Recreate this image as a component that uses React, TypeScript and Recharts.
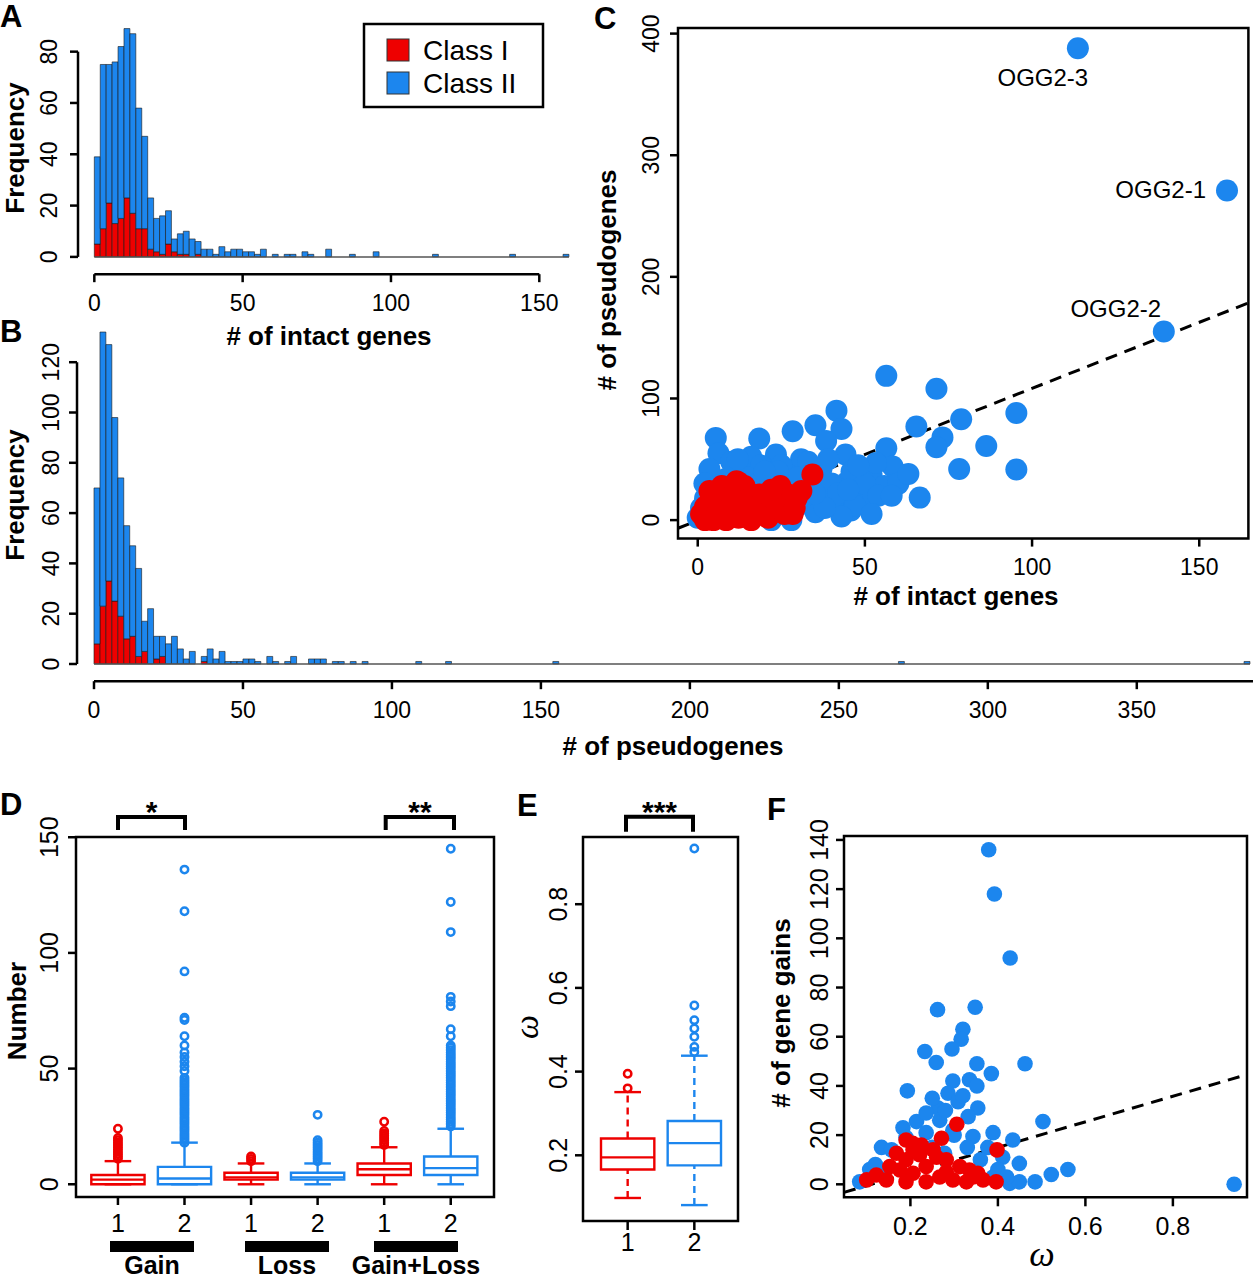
import React from 'react';
import {
  BarChart,
  Bar,
  ScatterChart,
  Scatter,
  XAxis,
  YAxis,
  ReferenceLine,
  ReferenceArea,
} from 'recharts';

const RED = '#ee0000';
const BLUE = '#1c86ee';
const FONT = '"Liberation Sans", Arial, Helvetica, sans-serif';
const SERIF = '"Liberation Serif", "DejaVu Serif", serif';

// ---------- A: histogram of # of intact genes (bin width 2) ----------
const BIN = 2;
const intactBins = [
  0, 2, 4, 6, 8, 10, 12, 14, 16, 18, 20, 22, 24, 26, 28, 30, 32, 34, 36, 38, 40, 42, 44, 46, 48,
  50, 52, 54, 56, 60, 64, 66, 70, 72, 78, 86, 94, 114, 140, 158,
];
const intactAll = [
  39, 75, 75, 76, 82, 89, 87, 58, 47, 23, 15, 16, 18, 7, 9, 10, 7, 6, 3, 3, 1, 4, 2, 3, 3, 2, 2,
  1, 3, 1, 1, 1, 2, 1, 3, 1, 2, 1, 1, 1,
];
const intactClassI = [
  5, 11, 21, 13, 15, 23, 17, 11, 11, 3, 2, 1, 5, 2, 1, 1, 0, 1, 0, 0, 0, 0, 0, 0, 0, 0, 0, 0, 0,
  0, 0, 0, 0, 0, 0, 0, 0, 0, 0, 0,
];

// ---------- B: histogram of # of pseudogenes (bin width 2) ----------
const pseudoBins = [
  0, 2, 4, 6, 8, 10, 12, 14, 16, 18, 20, 22, 24, 26, 28, 30, 32, 36, 38, 40, 42, 44, 46, 48, 50,
  52, 54, 58, 60, 64, 66, 72, 74, 76, 80, 82, 86, 90, 108, 118, 154, 270, 386,
];
const pseudoAll = [
  70, 132, 127, 98, 74, 55, 47, 38, 17, 22, 11, 11, 8, 11, 6, 2, 5, 3, 6, 2, 5, 1, 1, 1, 2, 2, 1,
  3, 1, 1, 3, 2, 2, 2, 1, 1, 1, 1, 1, 1, 1, 1, 1,
];
const pseudoClassI = [
  8, 23, 33, 25, 19, 10, 11, 3, 5, 0, 2, 3, 0, 0, 0, 0, 0, 1, 0, 0, 0, 0, 0, 0, 0, 0, 0, 0, 0, 0,
  0, 0, 0, 0, 0, 0, 0, 0, 0, 0, 0, 0, 0,
];

// ---------- C: pseudogenes vs intact genes ----------
const cBlue: [number, number][] = [
  [56.4, 118.6], [71.4, 108], [41.5, 90], [95.3, 88], [78.8, 83], [65.4, 77], [43, 75], [35.2, 78],
  [28.4, 73], [18.4, 67], [5.4, 67.6], [6.2, 55], [73.2, 68], [71.4, 60], [86.3, 61], [56.4, 59],
  [38.4, 65], [44.2, 54], [78.2, 42], [95.3, 41.6], [61.4, 37], [66.4, 18.5], [3.5, 42], [23.4, 54],
  [30.9, 50], [14.7, 47], [11, 40], [45.8, 8], [52, 37], [55.8, 28], [48.3, 24], [44.6, 31],
  [35.2, 6.5], [40.8, 18], [50.8, 15], [27.1, 37], [21, 34], [33.4, 28], [37, 42], [26, 5], [22, 0],
  [4.7, 28], [2.2, 18], [8.5, 34], [29.6, 11], [58.3, 44], [53.3, 47], [10, 48], [16, 52], [19, 45],
  [25, 45], [33, 48], [36, 35], [40, 30], [42, 22], [46, 40], [50, 30], [54, 20], [47, 12], [43, 3],
  [38, 10], [32, 20], [30, 35], [24, 40], [15, 35], [8, 22], [1, 10], [0, 2], [13, 3], [18, 30],
  [60, 30], [58, 20], [63, 38], [52, 5], [28, 0], [39, 50], [48, 45], [35, 22], [45, 25], [2, 30],
  [12, 50], [20, 40],
];
const cRed: [number, number][] = [
  [1, 5], [2.2, 11], [4, 18], [6, 21], [8.5, 16], [11, 24], [12.2, 31], [14, 28], [16, 21],
  [17.8, 15], [19.7, 8], [12.2, 2], [8.5, 0], [4.7, 0], [16, 0], [21, 2], [23.4, 15], [27, 21],
  [29.6, 18], [31, 24], [24.7, 28], [26, 5], [28.4, 5], [21, 15], [18.4, 21], [2.2, 0], [6, 8],
  [9.7, 8], [14.7, 8], [13.4, 15], [7.2, 28], [3.5, 24], [11.6, 32], [34.3, 37.5], [20, 10],
  [24, 10], [29, 10], [18, 5], [10, 20], [22, 25],
];
const cNamed = [
  { name: 'OGG2-3', x: 113.7, y: 388 },
  { name: 'OGG2-1', x: 158.3, y: 271 },
  { name: 'OGG2-2', x: 139.4, y: 155 },
];
const cFit = { intercept: -0.3, slope: 1.086 };

// ---------- D: gain / loss boxplots ----------
const dTickLabels = ['1', '2', '1', '2', '1', '2'];
const dGroups = ['Gain', 'Loss', 'Gain+Loss'];
const dBoxes = [
  { pos: 1, cls: 1, lo: 0, q1: 0, med: 2, q3: 4, hi: 10 },
  { pos: 2, cls: 2, lo: 0, q1: 0, med: 2.5, q3: 7.5, hi: 18 },
  { pos: 3, cls: 1, lo: 0, q1: 2, med: 3, q3: 5, hi: 9 },
  { pos: 4, cls: 2, lo: 0, q1: 2, med: 3, q3: 5, hi: 9 },
  { pos: 5, cls: 1, lo: 0, q1: 4, med: 6.5, q3: 9, hi: 16 },
  { pos: 6, cls: 2, lo: 0, q1: 4, med: 7, q3: 12, hi: 24 },
];
const dOutliers: number[][] = [
  [11, 12, 13, 14, 15, 16, 17, 18, 19, 20, 24],
  [
    18, 19, 20, 21, 22, 23, 24, 25, 26, 27, 28, 29, 30, 31, 32, 33, 34, 35, 36, 37, 38, 39, 40, 41,
    42, 43, 44, 45, 46, 49, 51, 53, 55, 57, 60, 64, 71, 72, 92, 118, 136,
  ],
  [10, 11, 12],
  [10, 11, 12, 13, 14, 15, 16, 17, 18, 19, 30],
  [17, 18, 19, 20, 21, 22, 23, 27],
  [
    25, 26, 27, 28, 29, 30, 31, 32, 33, 34, 35, 36, 37, 38, 39, 40, 41, 42, 43, 44, 45, 46, 47, 48,
    49, 50, 51, 52, 53, 54, 55, 56, 57, 58, 59, 60, 64, 67, 77, 79, 81, 109, 122, 145,
  ],
];

// ---------- E: omega boxplots ----------
const eTickLabels = ['1', '2'];
const eBoxes = [
  { pos: 1, cls: 1, lo: 0.098, q1: 0.166, med: 0.195, q3: 0.24, hi: 0.351 },
  { pos: 2, cls: 2, lo: 0.081, q1: 0.176, med: 0.229, q3: 0.282, hi: 0.438 },
];
const eOutliers: number[][] = [
  [0.36, 0.395],
  [0.447, 0.459, 0.483, 0.503, 0.523, 0.558, 0.933],
];

// ---------- F: gene gains vs omega ----------
const fBlue: [number, number][] = [
  [0.379, 136], [0.392, 118], [0.428, 92], [0.262, 71], [0.348, 72], [0.32, 63], [0.316, 59],
  [0.295, 55], [0.233, 54], [0.259, 49.5], [0.352, 49], [0.462, 49], [0.385, 45], [0.193, 38],
  [0.297, 42], [0.335, 42.5], [0.352, 40], [0.286, 37], [0.309, 33.6], [0.263, 31], [0.354, 31],
  [0.332, 27.5], [0.503, 25.5], [0.214, 25.5], [0.183, 23], [0.389, 21], [0.434, 18], [0.343, 19.4],
  [0.134, 15], [0.157, 14], [0.449, 8.5], [0.56, 6], [0.522, 4], [0.485, 1], [0.94, 0], [0.084, 1],
  [0.107, 6], [0.427, 0.4], [0.449, 1], [0.377, 15], [0.297, 22], [0.236, 21], [0.278, 12.6],
  [0.236, 29], [0.267, 26], [0.13, 4.5], [0.411, 11], [0.389, 3], [0.19, 19], [0.25, 35], [0.28, 30],
  [0.32, 36], [0.3, 20], [0.36, 10], [0.4, 6], [0.12, 8], [0.42, 3], [0.33, 15], [0.25, 15],
];
const fRed: [number, number][] = [
  [0.306, 24.4], [0.398, 14], [0.396, 1], [0.19, 18], [0.205, 16.7], [0.225, 16], [0.271, 18.7],
  [0.168, 12.6], [0.19, 10], [0.221, 12], [0.252, 14], [0.282, 10], [0.313, 7.2], [0.335, 5.8],
  [0.354, 4.5], [0.366, 1.8], [0.122, 3.8], [0.1, 1.8], [0.145, 1.8], [0.176, 5.8], [0.206, 4.5],
  [0.236, 7.2], [0.267, 3], [0.297, 1.8], [0.328, 1], [0.343, 3], [0.19, 1], [0.236, 1], [0.282, 5],
  [0.153, 7.2], [0.26, 11], [0.206, 14],
];
const fFit = { intercept: -5.8, slope: 52 };

// ---------- layout ----------
type Box = { l: number; t: number; r: number; b: number };
const YW = 70;
const XH = 60;
const PAD = 40;
const MARGIN = { top: PAD, right: PAD, bottom: PAD, left: PAD };
const TICK_LINE = { stroke: '#000', strokeWidth: 2.5 };

const boxA: Box = { l: 78.2, t: 25.8, r: 584, b: 274 };
const boxB: Box = { l: 77, t: 327.3, r: 1253, b: 681.5 };
const boxC: Box = { l: 677.5, t: 27.7, r: 1247.9, b: 538.3 };
const boxD: Box = { l: 76, t: 837, r: 494, b: 1197 };
const boxE: Box = { l: 582.7, t: 836.7, r: 737.7, b: 1220.7 };
const boxF: Box = { l: 844.3, t: 836, r: 1247.3, b: 1197.3 };

function frameOf(b: Box) {
  return {
    left: b.l - YW - PAD,
    top: b.t - PAD,
    width: b.r - b.l + YW + 2 * PAD,
    height: b.b - b.t + XH + 2 * PAD,
  };
}

function histRows(bins: number[], all: number[], classI: number[]) {
  return bins.map((s, i) => ({ x: s + BIN / 2, classI: classI[i], classII: all[i] - classI[i] }));
}
const toPts = (arr: [number, number][]) => arr.map(([x, y]) => ({ x, y }));

function XTick(props: any) {
  const { x, y, payload, fs, labels } = props;
  const label = labels ? labels[Math.round(payload.value) - 1] : String(payload.value);
  return (
    <text x={x} y={y} dy="0.71em" textAnchor="middle" fontSize={fs} fontFamily={FONT} fill="#000">
      {label}
    </text>
  );
}

function YTick(props: any) {
  const { x, y, payload, fs } = props;
  return (
    <text
      x={x}
      y={y}
      transform={`rotate(-90 ${x} ${y})`}
      textAnchor="middle"
      fontSize={fs}
      fontFamily={FONT}
      fill="#000"
    >
      {String(payload.value)}
    </text>
  );
}

function dot(r: number, fill: string) {
  return (p: any) => <circle cx={p.cx} cy={p.cy} r={r} fill={fill} />;
}

function ring(color: string) {
  return (p: any) => (
    <circle cx={p.cx} cy={p.cy} r={3.7} fill="none" stroke={color} strokeWidth={2.5} />
  );
}

const OGG_LABEL_STYLE: Record<string, { dx: number; dy: number; anchor: 'middle' | 'end' }> = {
  'OGG2-3': { dx: -35, dy: 38, anchor: 'middle' },
  'OGG2-1': { dx: -21, dy: 8, anchor: 'end' },
  'OGG2-2': { dx: -48, dy: -15, anchor: 'middle' },
};

function namedDot(p: any) {
  const s = OGG_LABEL_STYLE[p.payload.name];
  return (
    <g>
      <circle cx={p.cx} cy={p.cy} r={11} fill={BLUE} />
      <text
        x={p.cx + s.dx}
        y={p.cy + s.dy}
        textAnchor={s.anchor}
        fontSize={24}
        fontFamily={FONT}
        fill="#000"
      >
        {p.payload.name}
      </text>
    </g>
  );
}

function frameRect(xDom: number[], yDom: number[]) {
  return (
    <ReferenceArea
      x1={xDom[0]}
      x2={xDom[1]}
      y1={yDom[0]}
      y2={yDom[1]}
      fill="none"
      stroke="#000"
      strokeWidth={2.5}
      ifOverflow="visible"
    />
  );
}

function boxParts(b: any, dashed: boolean) {
  const c = b.cls === 1 ? RED : BLUE;
  const k = `bx${b.pos}`;
  const common = { stroke: c, strokeWidth: 2.4, ifOverflow: 'visible' as const };
  const dash = dashed ? '7 5' : undefined;
  return [
    <ReferenceLine key={k + 'wu'} segment={[{ x: b.pos, y: b.q3 }, { x: b.pos, y: b.hi }]} {...common} strokeDasharray={dash} />,
    <ReferenceLine key={k + 'wl'} segment={[{ x: b.pos, y: b.lo }, { x: b.pos, y: b.q1 }]} {...common} strokeDasharray={dash} />,
    <ReferenceLine key={k + 'cu'} segment={[{ x: b.pos - 0.2, y: b.hi }, { x: b.pos + 0.2, y: b.hi }]} {...common} />,
    <ReferenceLine key={k + 'cl'} segment={[{ x: b.pos - 0.2, y: b.lo }, { x: b.pos + 0.2, y: b.lo }]} {...common} />,
    <ReferenceArea key={k + 'bx'} x1={b.pos - 0.4} x2={b.pos + 0.4} y1={b.q1} y2={b.q3} fill="#fff" fillOpacity={1} stroke={c} strokeWidth={2.4} ifOverflow="visible" />,
    <ReferenceLine key={k + 'md'} segment={[{ x: b.pos - 0.4, y: b.med }, { x: b.pos + 0.4, y: b.med }]} {...common} />,
  ];
}

function HistPanel(props: {
  box: Box;
  xDom: number[];
  yDom: number[];
  xTicks: number[];
  yTicks: number[];
  rows: any[];
  axisEnd: number;
  baseEnd: number;
  xm: number;
  ym: number;
}) {
  const { box, xDom, yDom, xTicks, yTicks, rows, axisEnd, baseEnd, xm, ym } = props;
  const f = frameOf(box);
  const barPx = ((box.r - box.l) / (xDom[1] - xDom[0])) * BIN - 0.03;
  return (
    <div style={{ position: 'absolute', left: f.left, top: f.top }}>
      <BarChart width={f.width} height={f.height} data={rows} margin={MARGIN} barCategoryGap={0} barGap={0}>
        <XAxis type="number" dataKey="x" domain={xDom} ticks={xTicks} allowDataOverflow interval={0}
          height={XH} axisLine={false} tickLine={TICK_LINE} tickSize={8} tickMargin={xm} tick={<XTick fs={23} />} />
        <YAxis type="number" domain={yDom} ticks={yTicks} allowDataOverflow interval={0}
          width={YW} axisLine={false} tickLine={TICK_LINE} tickSize={8} tickMargin={ym} tick={<YTick fs={23} />} />
        <ReferenceLine segment={[{ x: 0, y: 0 }, { x: baseEnd, y: 0 }]} stroke="#555" strokeWidth={1.5} ifOverflow="visible" />
        <Bar dataKey="classI" stackId="h" fill={RED} stroke="#1a1a1a" strokeWidth={0.6} barSize={barPx} isAnimationActive={false} />
        <Bar dataKey="classII" stackId="h" fill={BLUE} stroke="#1a1a1a" strokeWidth={0.6} barSize={barPx} isAnimationActive={false} />
        <ReferenceLine segment={[{ x: 0, y: yDom[0] }, { x: axisEnd, y: yDom[0] }]} stroke="#000" strokeWidth={2.5} ifOverflow="visible" />
        <ReferenceLine segment={[{ x: xDom[0], y: 0 }, { x: xDom[0], y: yTicks[yTicks.length - 1] }]} stroke="#000" strokeWidth={2.5} ifOverflow="visible" />
      </BarChart>
    </div>
  );
}

function axesFor(xDom: number[], yDom: number[], xTicks: number[], yTicks: number[], xm: number, ym: number, fs: number, labels?: string[], xTickSize = 8) {
  return [
    <XAxis key="xa" type="number" dataKey="x" domain={xDom} ticks={xTicks} allowDataOverflow interval={0}
      height={XH} axisLine={false} tickLine={TICK_LINE} tickSize={xTickSize} tickMargin={xm} tick={<XTick fs={fs} labels={labels} />} />,
    <YAxis key="ya" type="number" dataKey="y" domain={yDom} ticks={yTicks} allowDataOverflow interval={0}
      width={YW} axisLine={false} tickLine={TICK_LINE} tickSize={8} tickMargin={ym} tick={<YTick fs={fs} />} />,
  ];
}

function PanelC() {
  const xDom = [-5.9, 164.7];
  const yDom = [-15.2, 404.6];
  const f = frameOf(boxC);
  return (
    <div style={{ position: 'absolute', left: f.left, top: f.top }}>
      <ScatterChart width={f.width} height={f.height} margin={MARGIN}>
        {axesFor(xDom, yDom, [0, 50, 100, 150], [0, 100, 200, 300, 400], 12.4, 11.2, 23)}
        {frameRect(xDom, yDom)}
        <Scatter data={toPts(cBlue)} shape={dot(11, BLUE)} isAnimationActive={false} />
        <Scatter data={cNamed} shape={namedDot} isAnimationActive={false} />
        <Scatter data={toPts(cRed)} shape={dot(11, RED)} isAnimationActive={false} />
        <ReferenceLine
          segment={[
            { x: xDom[0], y: cFit.intercept + cFit.slope * xDom[0] },
            { x: xDom[1], y: cFit.intercept + cFit.slope * xDom[1] },
          ]}
          stroke="#000" strokeWidth={3} strokeDasharray="12 8" ifOverflow="visible"
        />
      </ScatterChart>
    </div>
  );
}

function PanelD() {
  const xDom = [0.37, 6.65];
  const yDom = [-5.5, 150.1];
  const f = frameOf(boxD);
  const red = dBoxes.flatMap((b, i) => (b.cls === 1 ? dOutliers[i].map((y) => ({ x: b.pos, y })) : []));
  const blue = dBoxes.flatMap((b, i) => (b.cls === 2 ? dOutliers[i].map((y) => ({ x: b.pos, y })) : []));
  return (
    <div style={{ position: 'absolute', left: f.left, top: f.top }}>
      <ScatterChart width={f.width} height={f.height} margin={MARGIN}>
        {axesFor(xDom, yDom, [1, 2, 3, 4, 5, 6], [0, 50, 100, 150], 9.3, 9.7, 25, dTickLabels)}
        {frameRect(xDom, yDom)}
        <Scatter data={red} shape={ring(RED)} isAnimationActive={false} />
        <Scatter data={blue} shape={ring(BLUE)} isAnimationActive={false} />
        {dBoxes.flatMap((b) => boxParts(b, false))}
      </ScatterChart>
    </div>
  );
}

function PanelE() {
  const xDom = [0.33, 2.655];
  const yDom = [0.043, 0.9606];
  const f = frameOf(boxE);
  const red = eOutliers[0].map((y) => ({ x: eBoxes[0].pos, y }));
  const blue = eOutliers[1].map((y) => ({ x: eBoxes[1].pos, y }));
  return (
    <div style={{ position: 'absolute', left: f.left, top: f.top }}>
      <ScatterChart width={f.width} height={f.height} margin={MARGIN}>
        {axesFor(xDom, yDom, [1, 2], [0.2, 0.4, 0.6, 0.8], 3.6, 8, 25, eTickLabels, 9)}
        {frameRect(xDom, yDom)}
        {eBoxes.flatMap((b) => boxParts(b, true))}
        <Scatter data={red} shape={ring(RED)} isAnimationActive={false} />
        <Scatter data={blue} shape={ring(BLUE)} isAnimationActive={false} />
      </ScatterChart>
    </div>
  );
}

function PanelF() {
  const xDom = [0.0482, 0.9694];
  const yDom = [-5.28, 141.6];
  const f = frameOf(boxF);
  return (
    <div style={{ position: 'absolute', left: f.left, top: f.top }}>
      <ScatterChart width={f.width} height={f.height} margin={MARGIN}>
        {axesFor(xDom, yDom, [0.2, 0.4, 0.6, 0.8], [0, 20, 40, 60, 80, 100, 120, 140], 11, 8, 25, undefined, 9)}
        {frameRect(xDom, yDom)}
        <Scatter data={toPts(fBlue)} shape={dot(7.8, BLUE)} isAnimationActive={false} />
        <Scatter data={toPts(fRed)} shape={dot(7.8, RED)} isAnimationActive={false} />
        <ReferenceLine
          segment={[
            { x: xDom[0], y: fFit.intercept + fFit.slope * xDom[0] },
            { x: xDom[1], y: fFit.intercept + fFit.slope * xDom[1] },
          ]}
          stroke="#000" strokeWidth={3} strokeDasharray="12 8" ifOverflow="visible"
        />
      </ScatterChart>
    </div>
  );
}

const PANEL_LETTERS = [
  { t: 'A', x: 0, y: 27 },
  { t: 'B', x: 0, y: 342 },
  { t: 'C', x: 594, y: 29 },
  { t: 'D', x: 0, y: 815 },
  { t: 'E', x: 517, y: 816 },
  { t: 'F', x: 767, y: 820 },
];

function Overlay() {
  const bold = { fontFamily: FONT, fontWeight: 700, fill: '#000' } as const;
  const vtitle = (t: string, x: number, y: number, key: string) => (
    <text key={key} transform={`translate(${x},${y}) rotate(-90)`} textAnchor="middle" fontSize={26} {...bold}>
      {t}
    </text>
  );
  const groupX = [152, 287, 416];
  return (
    <svg width={1253} height={1280} style={{ position: 'absolute', left: 0, top: 0, pointerEvents: 'none' }}>
      {PANEL_LETTERS.map((p) => (
        <text key={p.t} x={p.x} y={p.y} fontSize={31} {...bold}>{p.t}</text>
      ))}
      {/* A legend */}
      <rect x={364} y={24} width={179} height={83} fill="#fff" stroke="#000" strokeWidth={2.5} />
      <rect x={387} y={39} width={22} height={22} fill={RED} stroke="#333" strokeWidth={1} />
      <rect x={387} y={72} width={22} height={22} fill={BLUE} stroke="#333" strokeWidth={1} />
      <text x={423} y={60} fontSize={28} fontFamily={FONT} fill="#000">Class I</text>
      <text x={423} y={93} fontSize={28} fontFamily={FONT} fill="#000">Class II</text>
      {/* axis titles */}
      {vtitle('Frequency', 24, 148, 'fa')}
      <text x={329} y={345} textAnchor="middle" fontSize={26} {...bold}># of intact genes</text>
      {vtitle('Frequency', 24, 495, 'fb')}
      <text x={673} y={755} textAnchor="middle" fontSize={26} {...bold}># of pseudogenes</text>
      {vtitle('# of pseudogenes', 616, 280, 'pc')}
      <text x={956} y={605} textAnchor="middle" fontSize={26} {...bold}># of intact genes</text>
      {vtitle('Number', 26, 1011, 'nd')}
      {vtitle('# of gene gains', 790, 1013, 'gf')}
      <text transform="translate(538,1027) rotate(-90)" textAnchor="middle" fontSize={34} fontFamily={SERIF} fontStyle="italic" fill="#000">ω</text>
      <text x={1042} y={1266} textAnchor="middle" fontSize={36} fontFamily={SERIF} fontStyle="italic" fill="#000">ω</text>
      {/* significance brackets */}
      <path d="M118 830 V817 H185 V830" fill="none" stroke="#000" strokeWidth={4} />
      <path d="M385.7 830 V817 H454 V830" fill="none" stroke="#000" strokeWidth={4} />
      <path d="M626 831.7 V816.7 H693 V831.7" fill="none" stroke="#000" strokeWidth={4} />
      <text x={151.5} y={822} textAnchor="middle" fontSize={30} {...bold}>*</text>
      <text x={420} y={822} textAnchor="middle" fontSize={30} {...bold}>**</text>
      <text x={659.5} y={822} textAnchor="middle" fontSize={30} {...bold}>***</text>
      {/* group bars under D */}
      {dGroups.map((g, i) => (
        <g key={g}>
          <rect x={[110, 245, 374][i]} y={1241} width={84} height={11} fill="#000" />
          <text x={groupX[i]} y={1274} textAnchor="middle" fontSize={25} {...bold}>{g}</text>
        </g>
      ))}
    </svg>
  );
}

export default function App() {
  return (
    <div
      style={{
        position: 'absolute',
        left: 0,
        top: 0,
        width: 1253,
        height: 1280,
        overflow: 'hidden',
        background: '#fff',
      }}
    >
      <HistPanel
        box={boxA}
        xDom={[-5.5, 165]}
        yDom={[-6.74, 90]}
        xTicks={[0, 50, 100, 150]}
        yTicks={[0, 20, 40, 60, 80]}
        rows={histRows(intactBins, intactAll, intactClassI)}
        axisEnd={150}
        baseEnd={160}
        xm={12}
        ym={12.8}
      />
      <HistPanel
        box={boxB}
        xDom={[-5.7, 389]}
        yDom={[-6.84, 134]}
        xTicks={[0, 50, 100, 150, 200, 250, 300, 350]}
        yTicks={[0, 20, 40, 60, 80, 100, 120]}
        rows={histRows(pseudoBins, pseudoAll, pseudoClassI)}
        axisEnd={389}
        baseEnd={388}
        xm={12.2}
        ym={9.7}
      />
      <PanelC />
      <PanelD />
      <PanelE />
      <PanelF />
      <Overlay />
    </div>
  );
}
